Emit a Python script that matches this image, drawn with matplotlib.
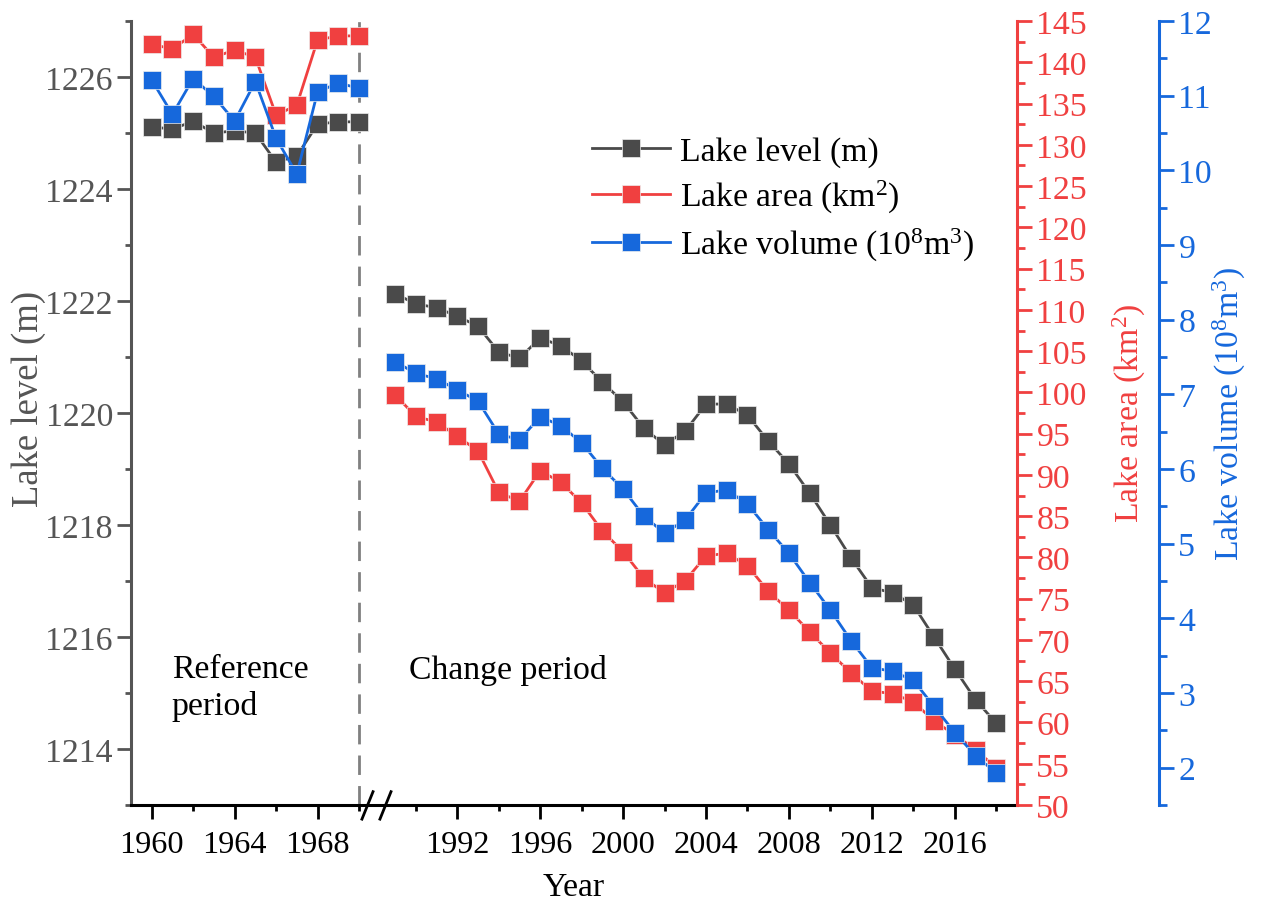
import numpy as np
import matplotlib
matplotlib.use("Agg")
import matplotlib.pyplot as plt
from matplotlib.lines import Line2D

plt.rcParams['font.family'] = ['Liberation Serif', 'DejaVu Serif']
plt.rcParams['mathtext.fontset'] = 'custom'
plt.rcParams['mathtext.rm'] = 'Liberation Serif'
plt.rcParams['mathtext.it'] = 'Liberation Serif:italic'

# data
years_ref = list(range(1960, 1971))
years_chg = list(range(1989, 2019))
years = years_ref + years_chg

level = [1225.11, 1225.07, 1225.21, 1225.00, 1225.04, 1225.00, 1224.48, 1224.59, 1225.16, 1225.20, 1225.20,
         1222.13, 1221.95, 1221.88, 1221.73, 1221.55, 1221.09, 1220.98, 1221.34, 1221.20, 1220.93,
         1220.55, 1220.20, 1219.73, 1219.43, 1219.68, 1220.16, 1220.16, 1219.96, 1219.50, 1219.09,
         1218.57, 1218.00, 1217.41, 1216.88, 1216.79, 1216.57, 1216.00, 1215.43, 1214.88, 1214.46]

area = [142.2, 141.6, 143.4, 140.6, 141.5, 140.6, 133.6, 134.8, 142.7, 143.2, 143.2,
        99.7, 97.1, 96.4, 94.7, 92.9, 87.9, 86.8, 90.5, 89.1, 86.6,
        83.2, 80.7, 77.5, 75.7, 77.2, 80.2, 80.5, 79.0, 75.9, 73.6,
        71.0, 68.4, 66.0, 63.8, 63.5, 62.5, 60.2, 58.5, 56.7, 54.5]

volume = [11.21, 10.75, 11.23, 10.99, 10.66, 11.19, 10.43, 9.95, 11.05, 11.17, 11.10,
          7.44, 7.28, 7.21, 7.06, 6.91, 6.47, 6.39, 6.70, 6.58, 6.35,
          6.01, 5.73, 5.37, 5.14, 5.32, 5.68, 5.72, 5.53, 5.19, 4.87,
          4.48, 4.11, 3.70, 3.34, 3.29, 3.17, 2.82, 2.47, 2.16, 1.93]

x_major = [1960, 1964, 1968, 1992, 1996, 2000, 2004, 2008, 2012, 2016]
x_minor = [1962, 1966, 1970, 1990, 1994, 1998, 2002, 2006, 2010, 2014, 2018]

c_gray = '#4a4a4a'
c_red = '#f04040'
c_blue = '#1668dc'
c_axgray = '#555555'
fs = 24.3
fs_x = 23.3

# broken x axis: squeeze the years 1970-1989
XP = [1900, 1970, 1989, 2100]
FP = [1900, 1970, 1971.74, 2082.74]
fwd = lambda x: np.interp(x, XP, FP)
inv = lambda x: np.interp(x, FP, XP)

fig = plt.figure(figsize=(12.63, 9.03), dpi=100)
ax = fig.add_axes([0.1037, 0.1074, 0.7015, 0.8682])
ax.set_xscale('function', functions=(fwd, inv))
ax2 = ax.twinx()
ax3 = ax.twinx()
ax3.spines['right'].set_position(('axes', 1.1603))

ms = 12.5
def series(a, y, col):
    a.plot(years_ref, y[:11], color=col, lw=2, marker='s', ms=ms, mec='#eeeeee', mew=0.5)
    a.plot(years_chg, y[11:], color=col, lw=2, marker='s', ms=ms, mec='#eeeeee', mew=0.5)

ax.axvline(1970, color='#808080', lw=2, ls=(0, (7, 4)), zorder=0)
series(ax, level, c_gray)
series(ax2, area, c_red)
series(ax3, volume, c_blue)

ax.set_xlim(1959, 2019)
ax.set_xticks(x_major, labels=[str(v) for v in x_major])
ax.set_xticks(x_minor, minor=True)

ax.set_ylim(1213, 1227)
ax.set_yticks(np.arange(1214, 1227, 2))
ax.set_yticks(np.arange(1213, 1228, 1), minor=True)
ax2.set_ylim(50, 145)
ax2.set_yticks(np.arange(50, 146, 5))
ax2.set_yticks(np.arange(50, 146, 2.5), minor=True)
ax3.set_ylim(1.5, 12)
ax3.set_yticks(np.arange(2, 13, 1))
ax3.set_yticks(np.arange(1.5, 12.1, 0.5), minor=True)

for a in (ax, ax2, ax3):
    a.spines['top'].set_visible(False)
    for s in a.spines.values():
        s.set_linewidth(2.2)
ax.spines['right'].set_visible(False)
ax2.spines['left'].set_visible(False)
ax3.spines['left'].set_visible(False)
ax2.spines['bottom'].set_visible(False)
ax3.spines['bottom'].set_visible(False)
ax.spines['left'].set_color(c_axgray)
ax.spines['bottom'].set_color('black')
ax2.spines['right'].set_color(c_red)
ax3.spines['right'].set_color(c_blue)

ax.tick_params(axis='x', which='major', direction='out', length=10, width=2, colors='black', labelsize=fs_x, pad=8)
ax.tick_params(axis='x', which='minor', direction='out', length=4.5, width=2, colors='black')
ax.tick_params(axis='y', which='major', direction='out', length=10, width=2, color=c_axgray, labelcolor=c_axgray, labelsize=fs, pad=3)
ax.tick_params(axis='y', which='minor', direction='out', length=4.5, width=2, color=c_axgray)
for a, c in ((ax2, c_red), (ax3, c_blue)):
    a.tick_params(axis='y', which='major', direction='out', length=11, width=2, colors=c, labelsize=fs, pad=3)
    a.tick_params(axis='y', which='minor', direction='out', length=5.5, width=2, colors=c)

ax.set_xlabel('Year', fontsize=fs)
ax.xaxis.set_label_coords(0.5, -0.085)
ax.set_ylabel('Lake level (m)', fontsize=26.5, color=c_axgray)
ax.yaxis.set_label_coords(-0.096, 0.519)
ax2.set_ylabel(r'Lake area (km$^{2}$)', fontsize=fs, color=c_red)
ax2.yaxis.set_label_coords(1.106, 0.501)
ax3.set_ylabel(r'Lake volume (10$^{8}$m$^{3}$)', fontsize=fs, color=c_blue)
ax3.yaxis.set_label_coords(1.219, 0.5)

# break marks on the x axis
for x0 in (0.2607, 0.2810):
    ax.plot([x0, x0 + 0.0125], [-0.018, 0.017], color='black', lw=2, transform=ax.transAxes, clip_on=False)

ax.text(0.046, 0.15, 'Reference\nperiod', transform=ax.transAxes, fontsize=fs, va='center', ha='left', linespacing=1.25)
ax.text(0.314, 0.173, 'Change period', transform=ax.transAxes, fontsize=fs, va='center', ha='left')

handles = [Line2D([], [], color=c, lw=2, marker='s', ms=ms, mec='#eeeeee', mew=0.5) for c in (c_gray, c_red, c_blue)]
labels = ['Lake level (m)', r'Lake area (km$^{2}$)', r'Lake volume (10$^{8}$m$^{3}$)']
ax3.legend(handles, labels, loc='upper left', bbox_to_anchor=(592 / 1263, 1 - 137 / 903),
           bbox_transform=fig.transFigure, frameon=False, fontsize=fs, borderpad=0,
           handlelength=2.3, handletextpad=0.3, labelspacing=0.32, borderaxespad=0)

fig.savefig('out.png', dpi=100)
